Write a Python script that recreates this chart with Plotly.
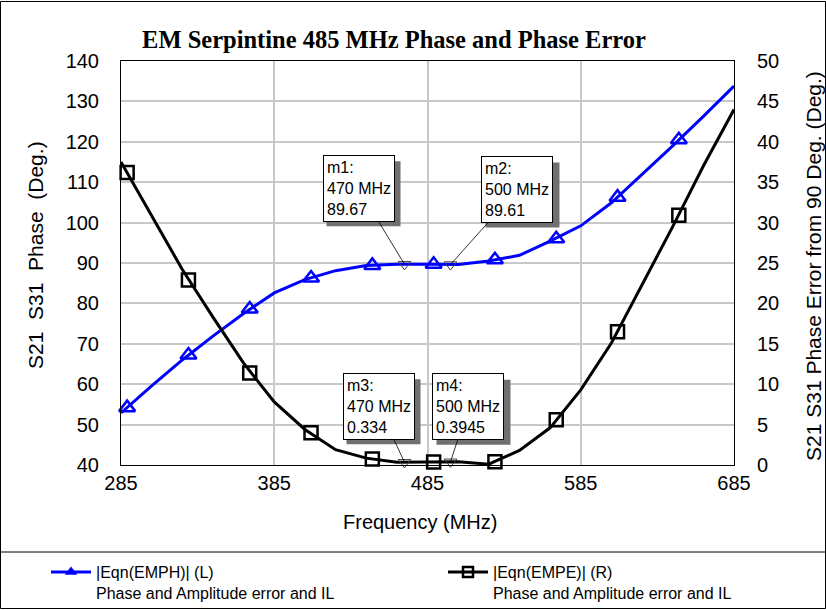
import plotly.graph_objects as go

# ── DATA ──────────────────────────────────────────────────────────────────────
freq = [285, 305, 325, 345, 365, 385, 405, 425, 445, 465, 485,
        505, 525, 545, 565, 585, 605, 625, 645, 665, 685]
phase = [52.9, 59.6, 66.0, 71.9, 77.5, 82.6, 85.9, 88.1, 89.4, 89.67, 89.7,
         89.65, 90.5, 91.9, 95.4, 99.2, 104.9, 111.9, 119.0, 126.3, 133.8]
phase_err = [37.5, 30.9, 24.2, 18.3, 12.6, 7.8, 4.4, 1.9, 0.85, 0.34, 0.38,
             0.40, 0.1, 1.8, 4.6, 9.3, 15.1, 22.3, 29.5, 37.0, 44.0]

sym_freq = [289, 329, 369, 409, 449, 489, 529, 569, 609, 649]
sym_phase = [54.2, 67.2, 78.6, 86.3, 89.4, 89.7, 90.8, 96.0, 106.3, 120.5]
sym_err = [36.2, 22.9, 11.4, 4.0, 0.75, 0.38, 0.4, 5.6, 16.5, 30.9]

mk_names = ['m1', 'm2', 'm3', 'm4']
mk_freq = [470, 500, 470, 500]
mk_val = [89.67, 89.61, 0.334, 0.3945]
mk_txt = ['89.67', '89.61', '0.334', '0.3945']
mk_axis = ['y', 'y', 'y2', 'y2']

left_ticks = [40, 50, 60, 70, 80, 90, 100, 110, 120, 130, 140]
right_ticks = [0, 5, 10, 15, 20, 25, 30, 35, 40, 45, 50]
x_ticks = [285, 385, 485, 585, 685]

BLUE = '#0000ff'
FONT = 'Liberation Sans, Arial, sans-serif'
NB = '\u00a0'

# ── FIGURE ────────────────────────────────────────────────────────────────────
fig = go.Figure()

fig.add_trace(go.Scatter(x=freq, y=phase, mode='lines', yaxis='y',
                         line=dict(color=BLUE, width=3), showlegend=False))
fig.add_trace(go.Scatter(x=sym_freq, y=sym_phase, mode='markers', yaxis='y',
                         marker=dict(symbol='triangle-up-open', size=14, color=BLUE,
                                     line=dict(color=BLUE, width=2.5)),
                         showlegend=False, cliponaxis=False))
fig.add_trace(go.Scatter(x=freq, y=phase_err, mode='lines', yaxis='y2',
                         line=dict(color='black', width=3), showlegend=False))
fig.add_trace(go.Scatter(x=sym_freq, y=sym_err, mode='markers', yaxis='y2',
                         marker=dict(symbol='square-open', size=13, color='black',
                                     line=dict(color='black', width=2.5)),
                         showlegend=False, cliponaxis=False))

# marker triangles
for f, v, ax in zip(mk_freq, mk_val, mk_axis):
    fig.add_trace(go.Scatter(x=[f], y=[v], mode='markers', yaxis=ax,
                             marker=dict(symbol='triangle-down-open', size=11, color='#404040',
                                         line=dict(color='#404040', width=1)),
                             showlegend=False, cliponaxis=False))

# legend-only entries (one legend each, so they can sit side by side)
fig.add_trace(go.Scatter(x=[None], y=[None], mode='lines+markers', legend='legend',
                         name='|Eqn(EMPH)| (L)<br>Phase and Amplitude error and IL',
                         line=dict(color=BLUE, width=3),
                         marker=dict(symbol='triangle-up', size=11, color=BLUE)))
fig.add_trace(go.Scatter(x=[None], y=[None], mode='lines+markers', legend='legend2',
                         name='|Eqn(EMPE)| (R)<br>Phase and Amplitude error and IL',
                         line=dict(color='black', width=3),
                         marker=dict(symbol='square-open', size=10, color='black',
                                     line=dict(width=2.5))))

# marker boxes: (ax, ay) pixel offset of the box centre from the point
box_off = [(-46, -76), (67, -75), (-26, -56), (18, -55)]
for name, f, v, t, ax, (dx, dy) in zip(mk_names, mk_freq, mk_val, mk_txt, mk_axis, box_off):
    # drop shadow, anchored to the marker point in pixels (pixel y grows upward)
    fig.add_shape(type='rect', xref='x', yref=ax, xsizemode='pixel', ysizemode='pixel',
                  xanchor=f, yanchor=v,
                  x0=dx - 32, x1=dx + 42, y0=-dy - 38, y1=-dy + 27,
                  fillcolor='#707070', line=dict(width=0), layer='above')
    fig.add_annotation(text=f'{name}:<br>{f} MHz<br>{t}', x=f, y=v, xref='x', yref=ax,
                       ax=dx, ay=dy, showarrow=True, arrowhead=0, align='left',
                       arrowwidth=0.8, arrowcolor='black', bgcolor='white',
                       bordercolor='black', borderwidth=1, borderpad=3,
                       font=dict(family=FONT, size=16, color='black'))

# ── LAYOUT ────────────────────────────────────────────────────────────────────
L, R, T, B = 121, 92, 61, 145
W, H = 826, 610
pw, ph = W - L - R, H - T - B


def px_x(p):
    return (p - L) / pw


def px_y(p):
    return (H - B - p) / ph


# axis titles
fig.add_annotation(text='Frequency (MHz)', xref='paper', yref='paper',
                   x=px_x(420), y=px_y(522), showarrow=False,
                   xanchor='center', yanchor='middle',
                   font=dict(family=FONT, size=20))
fig.add_annotation(text=f'S21{NB*2}S31{NB*2}Phase{NB*2}(Deg.)', xref='paper', yref='paper',
                   x=px_x(35), y=px_y(255), showarrow=False, textangle=-90,
                   xanchor='center', yanchor='middle',
                   font=dict(family=FONT, size=21))
fig.add_annotation(text='S21 S31 Phase Error from 90 Deg. (Deg.)', xref='paper', yref='paper',
                   x=px_x(813), y=px_y(266), showarrow=False, textangle=-90,
                   xanchor='center', yanchor='middle',
                   font=dict(family=FONT, size=21))

fig.add_shape(type='rect', xref='paper', yref='paper',
              x0=px_x(0.5), x1=px_x(825.5), y0=px_y(608.5), y1=px_y(1.5),
              line=dict(color='black', width=1), layer='below')
fig.add_shape(type='line', xref='paper', yref='paper',
              x0=px_x(0.5), x1=px_x(825.5), y0=px_y(552), y1=px_y(552),
              line=dict(color='black', width=1))

legend_common = dict(xref='container', yref='container', xanchor='left', yanchor='top',
                     font=dict(family=FONT, size=16), valign='top', itemwidth=40,
                     bgcolor='rgba(0,0,0,0)', borderwidth=0)

fig.update_layout(
    width=W, height=H,
    margin=dict(l=L, r=R, t=T, b=B, autoexpand=False),
    paper_bgcolor='white', plot_bgcolor='white',
    font=dict(family=FONT, size=20, color='black'),
    title=dict(text='<b>EM Serpintine 485 MHz Phase and Phase Error</b>',
               font=dict(family='Liberation Serif, Times New Roman, serif', size=24.5),
               xref='container', yref='container', x=394 / W, y=1 - 39 / H,
               xanchor='center', yanchor='middle'),
    xaxis=dict(range=[285, 685], tickvals=x_ticks, showgrid=True,
               gridcolor='#c8c8c8', gridwidth=1.5, zeroline=False,
               showline=True, linecolor='black', linewidth=1, mirror=True,
               ticks='', ticklabelstandoff=0, automargin=False),
    yaxis=dict(range=[40, 140], tickvals=left_ticks, showgrid=True,
               gridcolor='#c8c8c8', gridwidth=1.5, zeroline=False,
               showline=True, linecolor='black', linewidth=1, mirror=True,
               ticks='', ticklabelstandoff=17, automargin=False),
    yaxis2=dict(range=[0, 50], tickvals=right_ticks, overlaying='y', side='right',
                showgrid=False, zeroline=False, ticks='', ticklabelstandoff=22,
                automargin=False),
    legend=dict(x=46 / W, y=1 - 555 / H, **legend_common),
    legend2=dict(x=443 / W, y=1 - 555 / H, **legend_common),
)

fig.write_html('out.html', config={'displayModeBar': False},
               post_script="document.body.style.margin='0';")
